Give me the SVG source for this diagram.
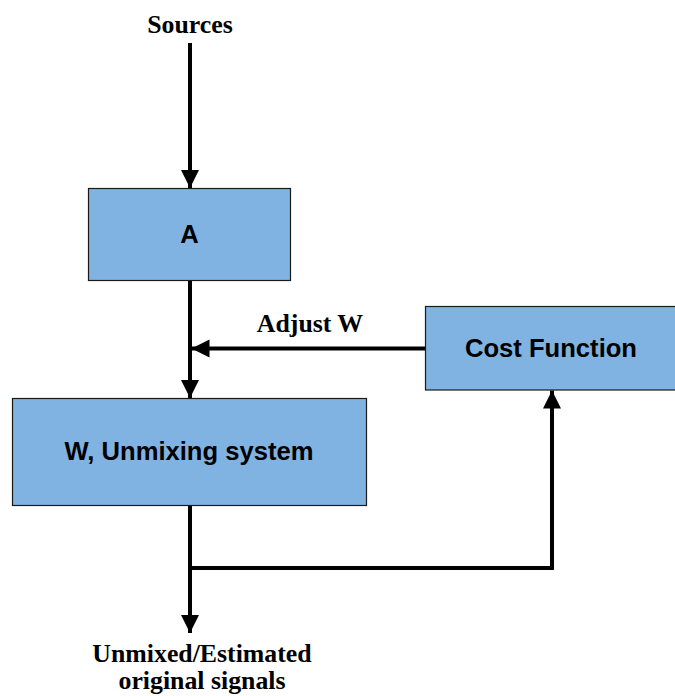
<svg xmlns="http://www.w3.org/2000/svg" width="675" height="696" viewBox="0 0 675 696">
  <style>
    .box { fill: #80b3e1; stroke: #1a1a1a; stroke-width: 1.2; }
    .lbl { font-family: "Liberation Sans", Arial, sans-serif; font-weight: bold; font-size: 25.6px; fill: #000; text-anchor: middle; }
    .cap { font-family: "Liberation Serif", "Times New Roman", serif; font-weight: bold; font-size: 25.8px; fill: #000; text-anchor: middle; }
    .wire { fill: none; stroke: #000; stroke-width: 4; stroke-linejoin: miter; }
  </style>
  <defs>
    <marker id="arr" markerUnits="userSpaceOnUse" markerWidth="20" markerHeight="20" refX="18" refY="9" orient="auto">
      <path d="M0,0 L18,9 L0,18 Z" fill="#000"/>
    </marker>
  </defs>
  <rect width="675" height="696" fill="#fff"/>

  <g id="connectors">
    <path class="wire" d="M190,43 L190,188" marker-end="url(#arr)"/>
    <path class="wire" d="M190,281 L190,398" marker-end="url(#arr)"/>
    <path class="wire" d="M426,348.5 L191.5,348.5" marker-end="url(#arr)"/>
    <path class="wire" d="M190,505 L190,633" marker-end="url(#arr)"/>
    <path class="wire" d="M188,568 L552,568 L552,390.5" marker-end="url(#arr)"/>
  </g>

  <g id="sources">
    <text class="cap" x="190" y="33">Sources</text>
  </g>
  <g id="node-A">
    <rect class="box" x="88.5" y="188.5" width="202" height="92"/>
    <text class="lbl" x="189.5" y="243">A</text>
  </g>
  <g id="adjust-label">
    <text class="cap" x="310" y="332">Adjust W</text>
  </g>
  <g id="node-cost">
    <rect class="box" x="425.5" y="306.5" width="252" height="83.5"/>
    <text class="lbl" x="551" y="357">Cost Function</text>
  </g>
  <g id="node-W">
    <rect class="box" x="12.5" y="398.5" width="354" height="107"/>
    <text class="lbl" x="189" y="460">W, Unmixing system</text>
  </g>
  <g id="output">
    <text class="cap" x="202" y="662">Unmixed/Estimated</text>
    <text class="cap" x="202" y="689">original signals</text>
  </g>
</svg>
